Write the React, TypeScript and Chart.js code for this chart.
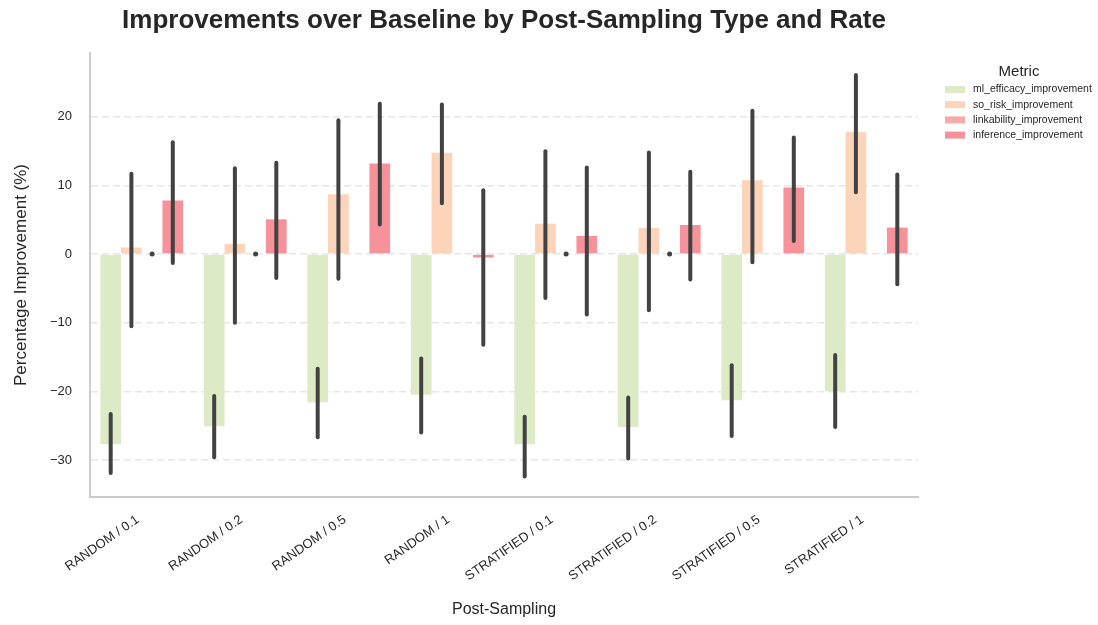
import React, { useEffect, useRef } from "react";
import { Chart, registerables } from "chart.js";

Chart.register(...registerables);

const categories = [
  "RANDOM / 0.1", "RANDOM / 0.2", "RANDOM / 0.5", "RANDOM / 1",
  "STRATIFIED / 0.1", "STRATIFIED / 0.2", "STRATIFIED / 0.5", "STRATIFIED / 1",
];
const metrics = ["ml_efficacy_improvement", "so_risk_improvement", "linkability_improvement", "inference_improvement"];

const mlValues = [-27.7, -25.1, -21.6, -20.5, -27.7, -25.2, -21.3, -20.0];
const mlLow = [-31.9, -29.6, -26.7, -26.0, -32.4, -29.8, -26.5, -25.2];
const mlHigh = [-23.3, -20.7, -16.7, -15.2, -23.7, -20.9, -16.2, -14.7];

const soValues = [0.96, 1.5, 8.7, 14.75, 4.43, 3.8, 10.75, 17.8];
const soLow = [-10.5, -10.0, -3.6, 7.4, -6.4, -8.2, -1.2, 9.0];
const soHigh = [11.7, 12.5, 19.5, 21.8, 15.0, 14.8, 20.9, 26.1];

const linkValues = [0, 0, null, null, 0, 0, null, null];
const linkLow = [0, 0, null, null, 0, 0, null, null];
const linkHigh = [0, 0, null, null, 0, 0, null, null];

const infValues = [7.8, 5.06, 13.2, -0.5, 2.65, 4.24, 9.7, 3.86];
const infLow = [-1.3, -3.5, 4.3, -13.2, -8.8, -3.7, 1.9, -4.4];
const infHigh = [16.3, 13.3, 21.9, 9.3, 12.6, 12.0, 17.0, 11.6];

const yTicks = [-30, -20, -10, 0, 10, 20];

const colors = ["rgb(220,235,197)", "rgb(252,212,185)", "rgb(249,170,168)", "rgb(247,146,154)"];
const FONT = "'Liberation Sans', Arial, sans-serif";

const errorBarPlugin = {
  id: "errorBars",
  afterDatasetsDraw(chart: any) {
    const ctx = chart.ctx;
    const yScale = chart.scales.y;
    chart.data.datasets.forEach((ds: any, di: number) => {
      const meta = chart.getDatasetMeta(di);
      meta.data.forEach((el: any, i: number) => {
        const lo = ds.errLow[i];
        const hi = ds.errHigh[i];
        if (lo === null || hi === null || lo === undefined) return;
        const x = el.x;
        const y1 = yScale.getPixelForValue(lo);
        const y2 = yScale.getPixelForValue(hi);
        ctx.save();
        ctx.strokeStyle = "#424242";
        ctx.fillStyle = "#424242";
        ctx.lineWidth = 4;
        ctx.lineCap = "round";
        if (Math.abs(y1 - y2) < 0.5) {
          ctx.beginPath();
          ctx.arc(x, y1, 2.5, 0, Math.PI * 2);
          ctx.fill();
        } else {
          ctx.beginPath();
          ctx.moveTo(x, y1);
          ctx.lineTo(x, y2);
          ctx.stroke();
        }
        ctx.restore();
      });
    });
  },
};

const textPlugin = {
  id: "texts",
  afterDraw(chart: any) {
    const ctx = chart.ctx;
    const area = chart.chartArea;
    ctx.save();
    ctx.fillStyle = "#262626";
    ctx.font = `bold 26px ${FONT}`;
    ctx.textAlign = "center";
    ctx.textBaseline = "middle";
    ctx.fillText("Improvements over Baseline by Post-Sampling Type and Rate", (area.left + area.right) / 2, 21);

    // legend
    ctx.font = `15px ${FONT}`;
    ctx.fillText("Metric", 1019, 72);
    ctx.font = `10.5px ${FONT}`;
    ctx.textAlign = "left";
    chart.data.datasets.forEach((ds: any, i: number) => {
      const y = 89.5 + i * 15.2;
      ctx.fillStyle = ds.backgroundColor;
      ctx.fillRect(945, y - 3.5, 20, 7);
      ctx.fillStyle = "#262626";
      ctx.fillText(ds.label, 973, y);
    });
    ctx.restore();
  },
};

export default function App() {
  const ref = useRef<HTMLCanvasElement>(null);
  useEffect(() => {
    const dsDefs = [
      [mlValues, mlLow, mlHigh],
      [soValues, soLow, soHigh],
      [linkValues, linkLow, linkHigh],
      [infValues, infLow, infHigh],
    ];
    const chart = new Chart(ref.current as HTMLCanvasElement, {
      type: "bar",
      data: {
        labels: categories,
        datasets: dsDefs.map((d, i) => ({
          label: metrics[i],
          data: d[0] as any,
          errLow: d[1],
          errHigh: d[2],
          backgroundColor: colors[i],
          borderWidth: 0,
          categoryPercentage: 0.8,
          barPercentage: 1.0,
        })) as any,
      },
      options: {
        responsive: false,
        animation: false,
        layout: { padding: { top: 53, right: 180, left: 0, bottom: 0 } },
        plugins: { legend: { display: false }, title: { display: false }, tooltip: { enabled: false } },
        scales: {
          x: {
            grid: { display: false, drawTicks: false },
            border: { display: true, color: "#cccccc", width: 2 },
            ticks: {
              maxRotation: 35,
              minRotation: 35,
              autoSkip: false,
              padding: 15,
              labelOffset: -4,
              color: "#262626",
              font: { family: FONT, size: 13 },
            },
            title: {
              display: true,
              text: "Post-Sampling",
              color: "#262626",
              font: { family: FONT, size: 16 },
              padding: { top: 0, bottom: 6 },
            },
            afterFit(scale: any) {
              scale.height = 128;
            },
          },
          y: {
            min: -35.4,
            max: 29.3,
            afterBuildTicks(scale: any) {
              scale.ticks = yTicks.map((v) => ({ value: v }));
            },
            grid: { color: "#e6e6e6", lineWidth: 1.6, drawTicks: false },
            border: { display: true, color: "#cccccc", width: 2, dash: [7, 4] },
            ticks: {
              padding: 18,
              color: "#262626",
              font: { family: FONT, size: 13 },
              callback: (v: any) => String(v).replace("-", "\u2212"),
            },
            title: {
              display: true,
              text: "Percentage Improvement (%)",
              color: "#262626",
              font: { family: FONT, size: 17 },
              padding: { top: 11, bottom: 0 },
            },
            afterFit(scale: any) {
              scale.width = 90;
            },
          },
        },
      },
      plugins: [errorBarPlugin, textPlugin],
    });
    return () => chart.destroy();
  }, []);
  return (
    <div style={{ position: "absolute", left: 0, top: 0, width: 1098, height: 625, background: "#fff" }}>
      <canvas ref={ref} width={1098} height={625} />
    </div>
  );
}
